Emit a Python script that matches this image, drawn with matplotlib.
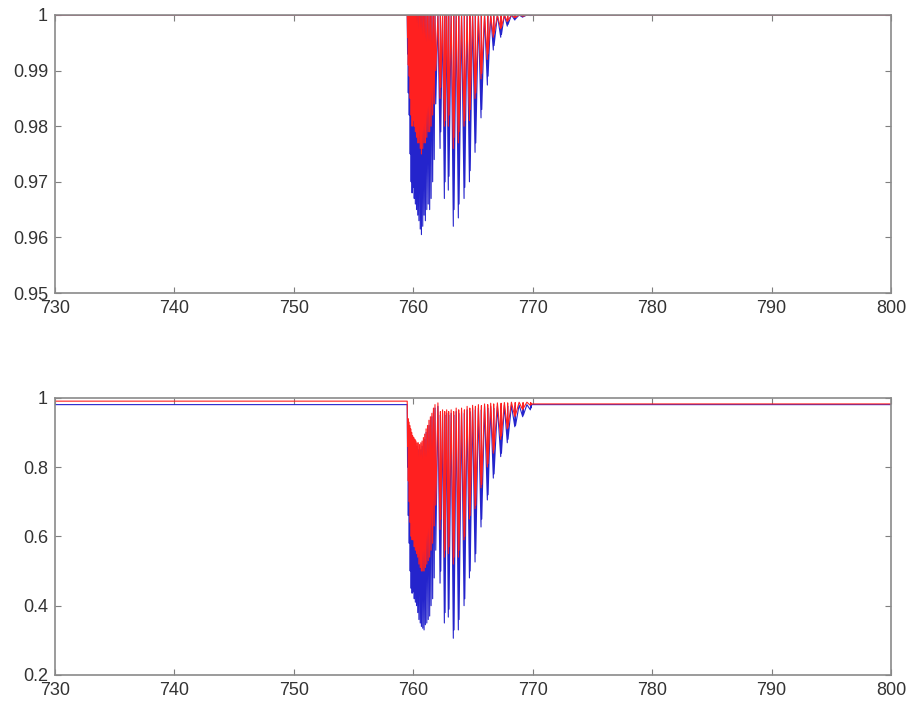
import numpy as np
import matplotlib
matplotlib.use("Agg")
import matplotlib.pyplot as plt

# absorption line centres (nm): R branch then P-branch doublets
LINE_WL = [
    759.52, 759.58, 759.66, 759.74, 759.82, 759.90, 759.99, 760.08, 760.17, 760.27,
    760.37, 760.47, 760.58, 760.68, 760.79, 760.90, 761.01, 761.13, 761.25, 761.37,
    761.49, 761.62, 761.75, 761.88,
    762.24, 762.30, 762.60, 762.66, 762.93, 762.99, 763.35, 763.41, 763.77, 763.83,
    764.25, 764.31, 764.70, 764.76, 765.17, 765.23, 765.67, 765.73, 766.20, 766.26,
    766.70, 766.76, 767.32, 767.38, 767.87, 767.93, 768.50, 768.56, 769.16, 769.22,
    769.80, 769.86,
]

# upper panel: line minima
TOP_BLUE_MIN = [
    0.993, 0.986, 0.982, 0.975, 0.970, 0.968, 0.969, 0.967, 0.966, 0.965,
    0.964, 0.963, 0.9615, 0.9605, 0.962, 0.964, 0.963, 0.965, 0.966, 0.965,
    0.967, 0.970, 0.974, 0.984,
    0.976, 0.979, 0.967, 0.970, 0.9685, 0.971, 0.962, 0.965, 0.9635, 0.966,
    0.967, 0.969, 0.970, 0.972, 0.9753, 0.977, 0.9815, 0.983, 0.9874, 0.989,
    0.9937, 0.9945, 0.996, 0.9965, 0.998, 0.9983, 0.9991, 0.9993, 0.9996, 0.9997,
    0.9999, 0.9999,
]
TOP_RED_MIN = [
    0.996, 0.991, 0.989, 0.985, 0.982, 0.980, 0.981, 0.980, 0.979, 0.978,
    0.977, 0.977, 0.976, 0.975, 0.976, 0.977, 0.977, 0.978, 0.979, 0.979,
    0.980, 0.982, 0.984, 0.990,
    0.985, 0.987, 0.980, 0.981, 0.980, 0.982, 0.976, 0.978, 0.977, 0.979,
    0.980, 0.981, 0.981, 0.983, 0.985, 0.986, 0.9885, 0.9895, 0.992, 0.993,
    0.996, 0.9966, 0.9975, 0.9978, 0.9988, 0.999, 0.9995, 0.9996, 0.9998, 0.9998,
    1.0, 1.0,
]
TOP_PEAK = 1.0

# lower panel: line minima and the local maximum just before each line
BOT_BLUE_MIN = [
    0.80, 0.66, 0.58, 0.50, 0.45, 0.436, 0.44, 0.42, 0.41, 0.40,
    0.38, 0.36, 0.35, 0.34, 0.335, 0.33, 0.345, 0.35, 0.36, 0.37,
    0.40, 0.42, 0.48, 0.56,
    0.465, 0.50, 0.35, 0.38, 0.367, 0.39, 0.306, 0.33, 0.33, 0.36,
    0.40, 0.42, 0.48, 0.50, 0.526, 0.55, 0.627, 0.65, 0.705, 0.72,
    0.768, 0.78, 0.83, 0.84, 0.87, 0.88, 0.916, 0.92, 0.945, 0.95,
    0.965, 0.97,
]
BOT_RED_MIN = [
    0.86, 0.76, 0.70, 0.64, 0.60, 0.59, 0.59, 0.57, 0.56, 0.55,
    0.54, 0.52, 0.51, 0.50, 0.50, 0.50, 0.51, 0.52, 0.53, 0.54,
    0.56, 0.58, 0.63, 0.69,
    0.62, 0.65, 0.54, 0.56, 0.55, 0.57, 0.52, 0.54, 0.54, 0.56,
    0.59, 0.60, 0.65, 0.66, 0.68, 0.69, 0.74, 0.75, 0.80, 0.81,
    0.84, 0.85, 0.88, 0.89, 0.91, 0.915, 0.945, 0.95, 0.965, 0.97,
    0.978, 0.98,
]
BOT_BLUE_PEAK = [
    0.98, 0.93, 0.92, 0.91, 0.90, 0.89, 0.88, 0.87, 0.87, 0.86,
    0.86, 0.85, 0.85, 0.85, 0.86, 0.87, 0.88, 0.90, 0.91, 0.92,
    0.935, 0.945, 0.96, 0.97,
    0.975, 0.95, 0.955, 0.95, 0.955, 0.95, 0.955, 0.95, 0.96, 0.955,
    0.96, 0.955, 0.965, 0.96, 0.97, 0.965, 0.97, 0.965, 0.975, 0.97,
    0.975, 0.97, 0.975, 0.975, 0.978, 0.976, 0.978, 0.977, 0.979, 0.978,
    0.98, 0.979,
]
BOT_RED_PEAK = [
    0.99, 0.94, 0.93, 0.92, 0.91, 0.90, 0.89, 0.885, 0.88, 0.875,
    0.87, 0.87, 0.865, 0.87, 0.875, 0.885, 0.895, 0.91, 0.92, 0.935,
    0.945, 0.955, 0.97, 0.98,
    0.985, 0.96, 0.965, 0.96, 0.965, 0.96, 0.965, 0.96, 0.97, 0.965,
    0.97, 0.965, 0.975, 0.97, 0.978, 0.975, 0.98, 0.977, 0.982, 0.98,
    0.984, 0.982, 0.985, 0.984, 0.986, 0.985, 0.987, 0.986, 0.987, 0.986,
    0.987, 0.986,
]
BOT_BLUE_BASE = (0.98, 0.98)   # continuum before / after the band
BOT_RED_BASE = (0.99, 0.982)

WL_RANGE = (730, 800)
BLUE = "#2424cc"
RED = "#ff2020"


def spectrum(minima, peaks, base):
    # zigzag polyline: continuum -> (local max, line minimum) per line -> continuum
    wl = np.array(LINE_WL)
    peaks = np.broadcast_to(np.asarray(peaks, dtype=float), wl.shape)
    left = np.r_[wl[0] - 0.03, (wl[:-1] + wl[1:]) / 2]
    x = [WL_RANGE[0]]
    y = [base[0]]
    for xl, p, xc, m in zip(left, peaks, wl, minima):
        x += [xl, xc]
        y += [p, m]
    x += [wl[-1] + 0.05, WL_RANGE[1]]
    y += [base[1], base[1]]
    return np.array(x), np.array(y)


def style_axes(ax, ylim, yticks, ylabels):
    ax.set_xlim(*WL_RANGE)
    ax.set_ylim(*ylim)
    ax.set_xticks(np.arange(730, 801, 10))
    ax.set_yticks(yticks)
    ax.set_yticklabels(ylabels)
    ax.tick_params(direction="in", length=4, width=0.8, color="#7f7f7f",
                   top=True, right=True, labelsize=13, labelcolor="#333333", pad=5)
    for sp in ax.spines.values():
        sp.set_color("#8a8a8a")
        sp.set_linewidth(1.2)


plt.rcParams["font.family"] = ["Liberation Sans", "DejaVu Sans"]

fig = plt.figure(figsize=(9.08, 7.04), dpi=100)
ax1 = fig.add_axes([0.0606, 0.5838, 0.9207, 0.3949])
ax2 = fig.add_axes([0.0606, 0.0412, 0.9207, 0.3939])

x, y = spectrum(TOP_BLUE_MIN, TOP_PEAK, (1.0, 1.0))
ax1.plot(x, y, color=BLUE, lw=0.8)
x, y = spectrum(TOP_RED_MIN, TOP_PEAK, (1.0, 1.0))
ax1.plot(x, y, color=RED, lw=0.8)
style_axes(ax1, (0.95, 1.0), [0.95, 0.96, 0.97, 0.98, 0.99, 1.0],
           ["0.95", "0.96", "0.97", "0.98", "0.99", "1"])

x, y = spectrum(BOT_BLUE_MIN, BOT_BLUE_PEAK, BOT_BLUE_BASE)
ax2.plot(x, y, color=BLUE, lw=0.8)
x, y = spectrum(BOT_RED_MIN, BOT_RED_PEAK, BOT_RED_BASE)
ax2.plot(x, y, color=RED, lw=0.8)
style_axes(ax2, (0.2, 1.0), [0.2, 0.4, 0.6, 0.8, 1.0],
           ["0.2", "0.4", "0.6", "0.8", "1"])

fig.savefig("out.png", dpi=100)
